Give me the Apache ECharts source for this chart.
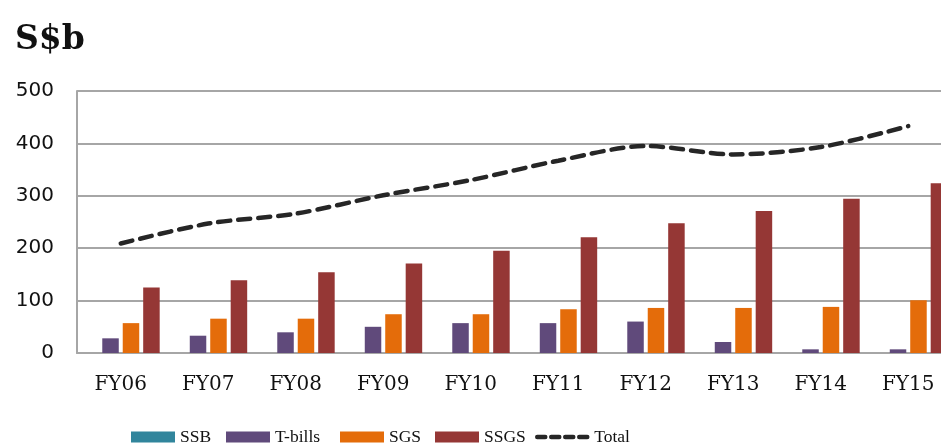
<!DOCTYPE html>
<html>
<head>
<meta charset="utf-8">
<script src="https://cdn.jsdelivr.net/npm/echarts@6/dist/echarts.min.js"></script>
<style>html,body{margin:0;padding:0;background:#fff}#c{width:941px;height:445px}</style>
</head>
<body>
<div id="c"></div>
<script>
const categories = ['FY06','FY07','FY08','FY09','FY10','FY11','FY12','FY13','FY14','FY15'];
const ssb    = [0, 0, 0, 0, 0, 0, 0, 0, 0, 0];
const tbills = [28, 33, 39.5, 50, 57, 57, 60, 21, 7, 7];
const sgs    = [57, 65.5, 65.5, 74, 74, 83.5, 86, 86, 88, 100.5];
const ssgs   = [125, 139, 154, 171, 195, 221, 247.5, 271, 294.5, 324];
const total  = [209, 247, 266, 301, 330, 367, 395, 379, 393, 433];
const yTicks = [0, 100, 200, 300, 400, 500];
const seriesNames = ['SSB', 'T-bills', 'SGS', 'SSGS', 'Total'];

const chart = echarts.init(document.getElementById('c'), null, {renderer: 'canvas'});
const gridColor = '#a6a6a6';
const colors = {'SSB': '#31859C', 'T-bills': '#604A7B', 'SGS': '#E46C0A', 'SSGS': '#953735', 'Total': '#262626'};
const legendLeft = [131, 226, 340, 435, 535];
const barBase = {type: 'bar', barWidth: 16.5, barGap: '24%'};

const legends = seriesNames.map((n, i) => ({
  left: legendLeft[i], top: 428, padding: 0,
  itemWidth: n === 'Total' ? 52 : 44, itemHeight: 11, itemGap: 0,
  textStyle: {fontFamily: 'Liberation Serif', fontSize: 17.5, color: '#111'},
  data: n === 'Total'
    ? [{name: n, itemStyle: {opacity: 0}, lineStyle: {type: [8, 6], width: 4.5, cap: 'round', color: '#262626'}}]
    : [{name: n, icon: 'rect'}]
}));

chart.setOption({
  animation: false,
  backgroundColor: '#fff',
  title: {
    text: 'S$b', left: 10, top: 19,
    textStyle: {fontFamily: 'DejaVu Serif', fontWeight: 'bold', fontSize: 33, color: '#111'}
  },
  grid: {left: 77, top: 91, bottom: 92, width: 875, containLabel: false, outerBoundsMode: 'none'},
  xAxis: {
    type: 'category', data: categories,
    axisLine: {lineStyle: {color: gridColor, width: 2}},
    axisTick: {show: false},
    axisLabel: {fontFamily: 'DejaVu Serif', fontSize: 20, color: '#111', margin: 22}
  },
  yAxis: {
    type: 'value', min: yTicks[0], max: yTicks[yTicks.length - 1], interval: 100,
    axisLine: {show: true, lineStyle: {color: gridColor, width: 2}},
    axisTick: {show: false},
    splitLine: {lineStyle: {color: gridColor, width: 2}},
    axisLabel: {fontFamily: 'DejaVu Sans', fontSize: 20, color: '#111', margin: 23}
  },
  legend: legends,
  series: [
    Object.assign({name: 'SSB', data: ssb, itemStyle: {color: colors['SSB']}}, barBase),
    Object.assign({name: 'T-bills', data: tbills, itemStyle: {color: colors['T-bills']}}, barBase),
    Object.assign({name: 'SGS', data: sgs, itemStyle: {color: colors['SGS']}}, barBase),
    Object.assign({name: 'SSGS', data: ssgs, itemStyle: {color: colors['SSGS']}}, barBase),
    {
      name: 'Total', type: 'line', data: total, smooth: 0.3, symbol: 'none', z: 5,
      lineStyle: {color: colors['Total'], width: 4.5, type: [12, 8], cap: 'round'},
      itemStyle: {color: colors['Total']}
    }
  ]
});
</script>
</body>
</html>
